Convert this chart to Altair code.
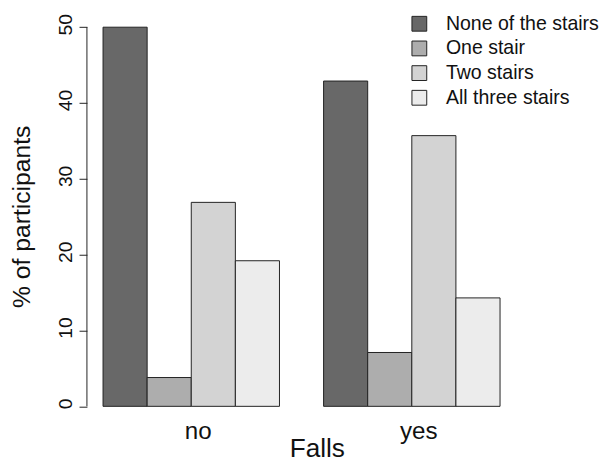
import altair as alt
import pandas as pd

falls_groups = ["no", "yes"]
stairs = ["None of the stairs", "One stair", "Two stairs", "All three stairs"]
pct_no = [50.0, 3.8, 26.9, 19.2]
pct_yes = [42.9, 7.1, 35.7, 14.3]
bar_colors = ["#686868", "#ADADAD", "#D3D3D3", "#ECECEC"]
y_ticks = [0, 10, 20, 30, 40, 50]

rows = []
for g, vals in zip(falls_groups, [pct_no, pct_yes]):
    for s, v in zip(stairs, vals):
        rows.append({"Falls": g, "Stairs": s, "pct": v})
df = pd.DataFrame(rows)

FONT = "Liberation Sans"
TXT = "#111111"
LINE = "#222222"

bars = alt.Chart(df).mark_bar(stroke=LINE, strokeWidth=1, opacity=1).encode(
    x=alt.X(
        "Falls:N",
        sort=falls_groups,
        scale=alt.Scale(paddingInner=0.2, paddingOuter=0.073),
        axis=alt.Axis(
            title="Falls",
            domain=False,
            ticks=False,
            tickSize=0,
            grid=False,
            labelAngle=0,
            labelFont=FONT,
            labelFontSize=24.5,
            labelColor=TXT,
            labelBaseline="alphabetic",
            labelPadding=17,
            labelOffset=7,
            titleFont=FONT,
            titleFontSize=26.5,
            titleFontWeight="normal",
            titleColor=TXT,
            titleAlign="center",
            titleBaseline="alphabetic",
            titleX=233,
            titleY=35,
        ),
    ),
    xOffset=alt.XOffset("Stairs:N", sort=stairs, scale=alt.Scale(paddingInner=0, paddingOuter=0)),
    y=alt.Y(
        "pct:Q",
        scale=alt.Scale(domain=[-2, 52], nice=False, zero=False),
        axis=alt.Axis(
            title="% of participants",
            values=y_ticks,
            domain=False,
            grid=False,
            tickSize=8,
            tickColor=LINE,
            tickWidth=1,
            labelAngle=270,
            labelAlign="center",
            labelBaseline="alphabetic",
            labelPadding=8,
            labelOffset=-3,
            labelFont=FONT,
            labelFontSize=19.5,
            labelColor=TXT,
            titleFont=FONT,
            titleFontSize=25,
            titleFontWeight="normal",
            titleColor=TXT,
            titleAngle=270,
            titleAlign="center",
            titleBaseline="alphabetic",
            titleX=-58,
            titleY=207,
        ),
    ),
    y2=alt.datum(0),
    color=alt.Color(
        "Stairs:N",
        sort=stairs,
        scale=alt.Scale(domain=stairs, range=bar_colors),
        legend=alt.Legend(
            title=None,
            orient="none",
            legendX=327,
            legendY=2,
            padding=0,
            symbolType="square",
            symbolSize=225,
            symbolStrokeColor=LINE,
            symbolStrokeWidth=1,
            symbolOpacity=1,
            labelFont=FONT,
            labelFontSize=19.8,
            labelColor=TXT,
            labelOffset=17,
            labelLimit=400,
            rowPadding=4,
        ),
    ),
)

axis_line = alt.Chart(pd.DataFrame({"a": [0]})).mark_rule(color=LINE, strokeWidth=1).encode(
    x=alt.value(0),
    y=alt.datum(y_ticks[0]),
    y2=alt.datum(y_ticks[-1]),
)

chart = alt.layer(bars, axis_line).properties(
    width=435,
    height=415,
    background="white",
    autosize=alt.AutoSizeParams(type="none"),
    padding={"left": 80, "top": 1, "right": 85, "bottom": 41},
).configure_view(stroke=None, strokeWidth=0)

chart.save("out.html", embed_options={"renderer": "svg", "actions": False})
